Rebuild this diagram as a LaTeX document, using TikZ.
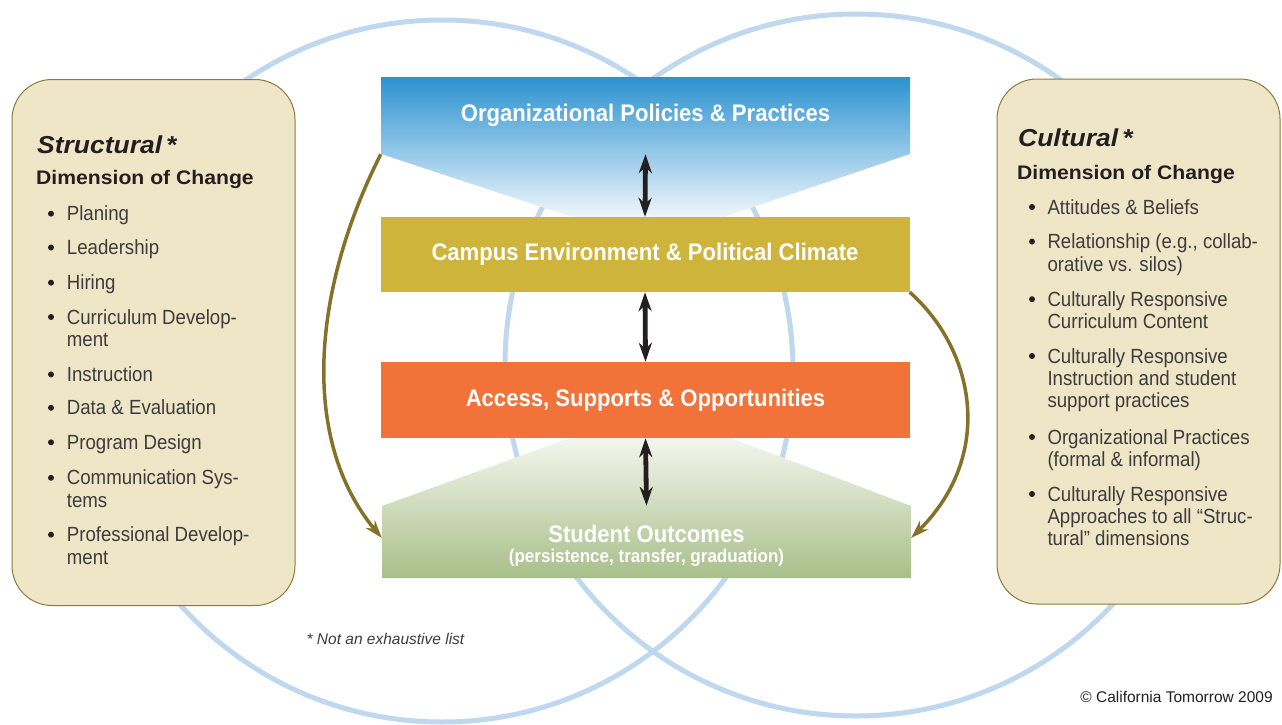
\documentclass[tikz,border=0pt]{standalone}
\usepackage{fontspec}
\setmainfont{Liberation Sans}
\newfontfamily\tierfont[FakeStretch=0.92]{Liberation Sans}
\newfontfamily\headfont[FakeStretch=1.08]{Liberation Sans}
\newfontfamily\itemfont[FakeStretch=0.91]{Liberation Sans}
\usetikzlibrary{arrows.meta, positioning, calc}
\definecolor{ink}{HTML}{231F20}
\definecolor{grey}{HTML}{3C3C3C}
\definecolor{ring}{HTML}{BFD7EF}
\definecolor{parch}{HTML}{EFE6C8}
\definecolor{parchline}{HTML}{8C7B36}
\definecolor{sky}{HTML}{2B92D0}
\definecolor{skyfade}{HTML}{F0F6FC}
\definecolor{mustard}{HTML}{CFB43C}
\definecolor{tangerine}{HTML}{F27339}
\definecolor{sage}{HTML}{A8BF89}
\definecolor{sagefade}{HTML}{F4F6EE}
\definecolor{olive}{HTML}{857229}
\tikzset{
  >={Stealth[length=19pt, width=13pt]},
  %
  dimbox/.style={draw=parchline, line width=1pt, fill=parch, rounded corners=40pt},
  tier/.style={minimum width=529pt, minimum height=76pt, inner sep=0pt,
               align=center, text=white,
               font=\tierfont\bfseries\fontsize{24}{24}\selectfont},
  %
  ringline/.style={draw=ring, line width=5pt},
  link/.style={draw=ink, line width=4.8pt, <->},
  drift/.style={draw=olive, line width=3.5pt,
                -{Stealth[length=18pt, width=12pt, inset=6pt]}},
  %
  dimhead/.style={anchor=base west, inner sep=0pt, text=ink,
                  font=\headfont\bfseries\itshape\fontsize{24.5}{26}\selectfont},
  dimsub/.style={anchor=base west, inner sep=0pt, text=ink,
                 font=\headfont\bfseries\fontsize{19.6}{22}\selectfont},
  item/.style={anchor=north west, inner sep=0pt, align=left, text=grey,
               font=\itemfont\fontsize{20.5}{22.4}\selectfont},
  note/.style={inner sep=0pt, text=grey, font=\fontsize{15.5}{17}\selectfont},
}

\begin{document}
\begin{tikzpicture}[x=1pt, y=-1pt]

\useasboundingbox (0,0) rectangle (1282,725);
\fill[white] (0,0) rectangle (1282,725);

% ------------------------------------------------------------------ rings
\draw[ringline] (442,371) circle (351);
\draw[ringline] (856,365) circle (351);

% ------------------------------------------------------------ dimensions
\node[dimbox, minimum width=283pt, minimum height=526pt] (structural) at (153.5,342.5) {};
\node[dimbox, minimum width=283pt, minimum height=525pt] (cultural) at (1138.5,341.5) {};

\node[dimhead] (structural-title) at (37,153) {Structural\,*};
\node[dimsub] (structural-sub) at (36,184.5) {Dimension of Change};
\foreach \y/\txt [count=\i] in {220.7/Planing, 254.5/Leadership, 289.7/Hiring,
    324/{Curriculum Develop-\\ment}, 381.4/Instruction, 414.8/{Data \& Evaluation},
    449.3/{Program Design}, 484.8/{Communication Sys-\\tems},
    541.7/{Professional Develop-\\ment}} {
  \fill[ink] (51,\y-7) circle (3);
  \node[item] (structural-\i) at (66.7,\y-15) {\txt};
}

\node[dimhead] (cultural-title) at (1018,146.5) {Cultural\,*};
\node[dimsub] (cultural-sub) at (1017,179.7) {Dimension of Change};
\foreach \y/\txt [count=\i] in {214/{Attitudes \& Beliefs},
    248.6/{Relationship (e.g., collab-\\orative vs. silos)},
    306.2/{Culturally Responsive\\Curriculum Content},
    363/{Culturally Responsive\\Instruction and student\\support practices},
    444/{Organizational Practices\\(formal \& informal)},
    501/{Culturally Responsive\\Approaches to all “Struc-\\tural” dimensions}} {
  \fill[ink] (1032,\y-7) circle (3);
  \node[item] (cultural-\i) at (1047.3,\y-15) {\txt};
}

% ----------------------------------------------------------------- tiers
\shade[top color=sky, bottom color=skyfade]
  (381,77) -- (910,77) -- (910,154) -- (724,217) -- (572,217) -- (381,154) -- cycle;
\shade[top color=sagefade, bottom color=sage]
  (570,438) -- (731,438) -- (911,506) -- (911,578) -- (382,578) -- (382,506) -- cycle;

\node[tier, minimum height=77pt] (org) at (645.5,115.5) {Organizational Policies \& Practices};
\node[tier, fill=mustard, minimum height=75pt] (env) at (645,254.5) {Campus Environment \& Political Climate};
\node[tier, fill=tangerine] (acc) at (645.5,400) {Access, Supports \& Opportunities};
\node[tier, minimum height=80pt] (out) at (646.5,546)
  {Student Outcomes\\[-4pt]{\fontsize{18.5}{20}\selectfont (persistence, transfer, graduation)}};

\draw[link] (org.south) -- (env.north);
\draw[link] (env.south) -- (acc.north);
\draw[link] (acc.south) -- (out.north);

\draw[drift] (org.south west) .. controls (312,290) and (300,440)
  .. ($(out.north west)!0.4!(out.south west)$);
\draw[drift] (env.south east) .. controls (975,350) and (995,455)
  .. ($(out.north east)!0.4!(out.south east)$);

% ----------------------------------------------------------------- notes
\node[note, font=\itshape\fontsize{15.5}{17}\selectfont] (caveat) at (385.5,639) {* Not an exhaustive list};
\node[note, text=ink] (credit) at (1176.5,697) {© California Tomorrow 2009};

\end{tikzpicture}
\end{document}
